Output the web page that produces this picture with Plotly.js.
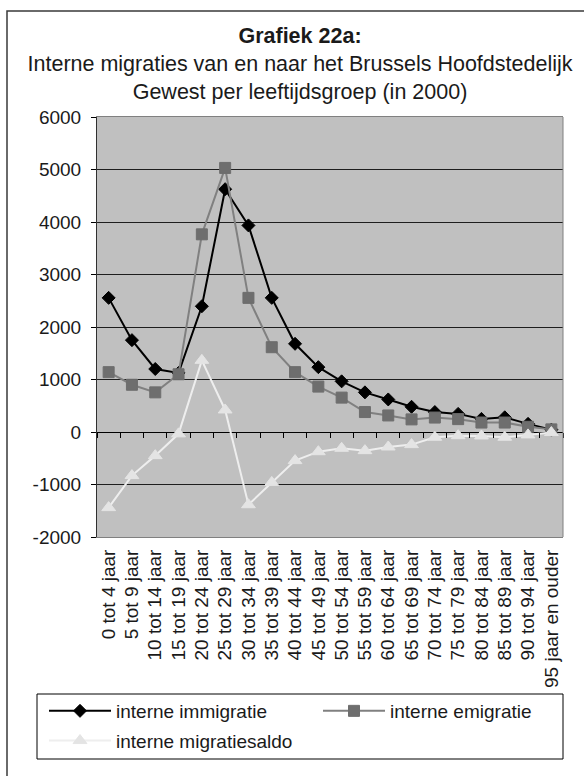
<!DOCTYPE html>
<html>
<head>
<meta charset="utf-8">
<script src="https://cdn.plot.ly/plotly-3.0.1.min.js"></script>
<style>
html,body{margin:0;padding:0;background:#fff;}
#chart{width:584px;height:776px;}
</style>
</head>
<body>
<div id="chart"></div>
<script>
var categories = ["0 tot 4 jaar","5 tot 9 jaar","10 tot 14 jaar","15 tot 19 jaar","20 tot 24 jaar",
  "25 tot 29 jaar","30 tot 34 jaar","35 tot 39 jaar","40 tot 44 jaar","45 tot 49 jaar",
  "50 tot 54 jaar","55 tot 59 jaar","60 tot 64 jaar","65 tot 69 jaar","70 tot 74 jaar",
  "75 tot 79 jaar","80 tot 84 jaar","85 tot 89 jaar","90 tot 94 jaar","95 jaar en ouder"];
var immigratie = [2555,1750,1200,1125,2395,4625,3935,2555,1680,1235,965,755,620,480,380,345,250,280,155,45];
var emigratie  = [1140,900,755,1100,3765,5030,2555,1615,1140,865,655,380,315,240,275,245,180,180,100,50];
var saldo      = [-1440,-830,-450,-35,1365,420,-1385,-960,-545,-375,-310,-355,-285,-240,-100,-70,-75,-100,-55,-10];
var seriesNames = ["interne immigratie","interne emigratie","interne migratiesaldo"];
var yTicks = [-2000,-1000,0,1000,2000,3000,4000,5000,6000];
var yTickText = yTicks.map(function(v){ return String(v); });

var FONT = "Liberation Sans, Arial, sans-serif";

var traces = [
  {x: categories, y: immigratie, name: seriesNames[0], type: 'scatter', mode: 'lines+markers',
   legend: 'legend', legendgroup: 'g1',
   line: {color: '#000000', width: 2},
   marker: {symbol: 'diamond', size: 10, color: '#000000', line: {color: '#000000', width: 1}}},
  {x: categories, y: emigratie, name: seriesNames[1], type: 'scatter', mode: 'lines+markers',
   legend: 'legend2', legendgroup: 'g2',
   line: {color: '#808080', width: 2},
   marker: {symbol: 'square', size: 11, color: '#6e6e6e', line: {color: '#6e6e6e', width: 1}}},
  {x: categories, y: saldo, name: seriesNames[2], type: 'scatter', mode: 'lines+markers',
   xaxis: 'x2', yaxis: 'y', legend: 'legend', legendgroup: 'g3',
   line: {color: '#eeeeee', width: 2},
   marker: {symbol: 'triangle-up', size: 12, color: '#e4e4e4', line: {color: '#e4e4e4', width: 1}}}
];

var legendY = (537 - 692) / 420;
var legendCommon = {
  yref: 'paper', y: legendY, yanchor: 'top', xref: 'paper', xanchor: 'left',
  bgcolor: 'rgba(255,255,255,0)', borderwidth: 0,
  font: {family: FONT, size: 19, color: '#1a1a1a'},
  itemwidth: 62, traceorder: 'grouped', tracegroupgap: 2, orientation: 'v'
};

var layout = {
  width: 584, height: 776,
  margin: {l: 97, r: 21, t: 117, b: 239, pad: 0, autoexpand: false},
  paper_bgcolor: '#ffffff',
  plot_bgcolor: '#c0c0c0',
  font: {family: FONT, size: 19, color: '#1a1a1a'},
  showlegend: true,
  title: {
    text: '<b>Grafiek 22a:</b><br>Interne migraties van en naar het Brussels Hoofdstedelijk<br>Gewest per leeftijdsgroep (in 2000)',
    font: {family: FONT, size: 21.5, color: '#1a1a1a'},
    xref: 'container', x: 300/584, xanchor: 'center',
    yref: 'container', y: 1 - 43/776, yanchor: 'top'
  },
  xaxis: {
    type: 'category', range: [-0.5, categories.length - 0.5],
    tickangle: -90, tickfont: {family: FONT, size: 19, color: '#1a1a1a'},
    ticks: '', showgrid: false, zeroline: false,
    showline: true, linecolor: '#808080', linewidth: 1, mirror: true,
    ticklabelstandoff: 4
  },
  xaxis2: {
    overlaying: 'x', anchor: 'free', position: 0.25, side: 'bottom',
    type: 'category', range: [-0.5, categories.length - 0.5],
    tickson: 'boundaries', ticks: 'outside', ticklen: 5,
    tickcolor: '#000000', tickwidth: 1,
    showticklabels: false, showgrid: false, zeroline: false, showline: false
  },
  yaxis: {
    range: [-2000, 6000], tickmode: 'array', tickvals: yTicks, ticktext: yTickText,
    tickfont: {family: FONT, size: 19, color: '#1a1a1a'},
    ticks: 'outside', ticklen: 5, tickcolor: '#000000',
    showgrid: true, gridcolor: '#1e1e1e', gridwidth: 1,
    zeroline: true, zerolinecolor: '#000000', zerolinewidth: 1,
    showline: true, linecolor: '#303030', linewidth: 1,
    ticklabelstandoff: 6
  },
  legend: Object.assign({}, legendCommon, {x: (44 - 97) / 466}),
  legend2: Object.assign({}, legendCommon, {x: (318 - 97) / 466}),
  shapes: [
    {type: 'line', xref: 'paper', yref: 'paper', x0: 1, x1: 1, y0: 0, y1: 1,
     line: {color: '#808080', width: 1}},
    {type: 'rect', xref: 'paper', yref: 'paper',
     x0: (7 - 97) / 466, x1: (592 - 97) / 466, y0: (537 - 790) / 420, y1: (537 - 11) / 420,
     line: {color: '#3a3a3a', width: 1.5}, fillcolor: 'rgba(0,0,0,0)', layer: 'below'},
    {type: 'rect', xref: 'paper', yref: 'paper',
     x0: (37 - 97) / 466, x1: (563 - 97) / 466, y0: (537 - 759) / 420, y1: (537 - 694) / 420,
     line: {color: '#000000', width: 1}, fillcolor: 'rgba(0,0,0,0)', layer: 'below'}
  ]
};

Plotly.newPlot('chart', traces, layout, {displayModeBar: false, staticPlot: true});
</script>
</body>
</html>
